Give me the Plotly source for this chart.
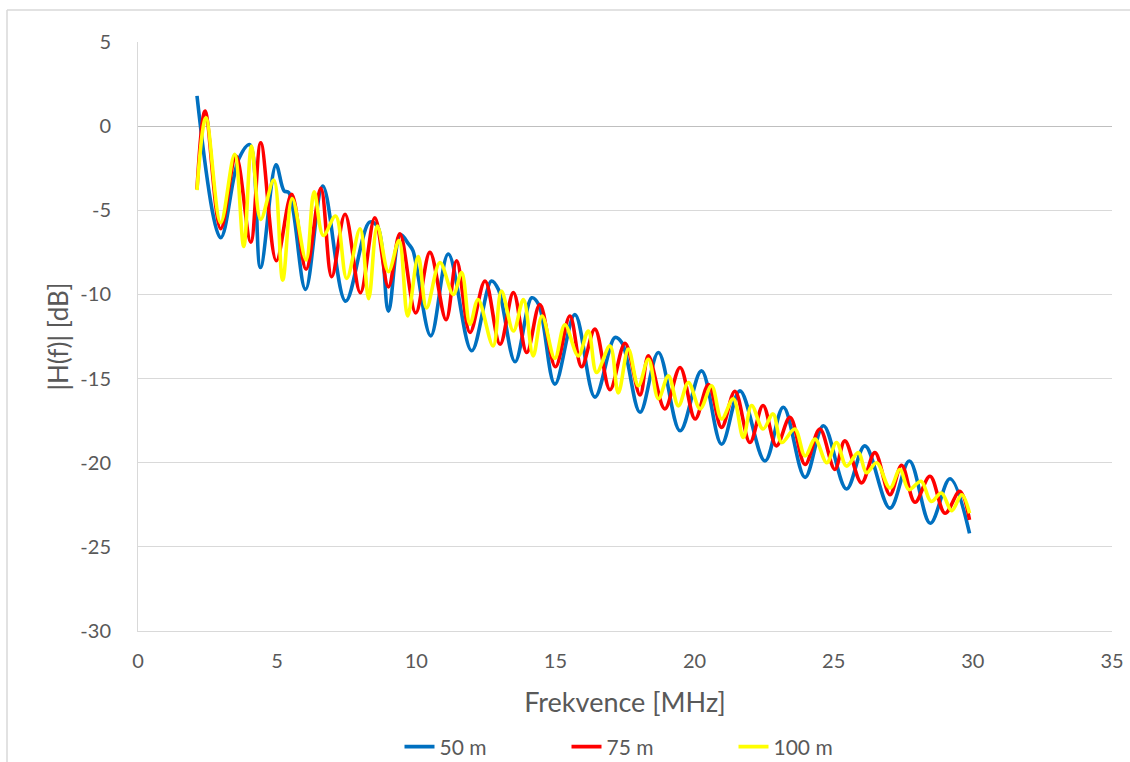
import plotly.graph_objects as go

# Frequency response magnitude of the line for three lengths
# (frequency in MHz, |H(f)| in dB), sampled at the turning points of each curve.
f_50 = [2.12, 2.97, 3.62, 4.02, 4.40, 4.96, 5.25, 5.42, 6.02, 6.64, 7.46, 8.32, 8.62,
        9.00, 9.43, 9.72, 9.88, 10.52, 11.15, 11.99, 12.70, 12.95, 13.55, 14.15, 14.40,
        14.98, 15.70, 16.42, 17.14, 17.40, 18.04, 18.70, 19.48, 20.25, 20.97, 21.63,
        22.53, 23.19, 23.97, 24.63, 25.46, 26.12, 27.02, 27.72, 28.47, 29.18, 29.88]
h_50 = [1.8, -6.63, -1.95, -1.1, -8.4, -2.3, -3.85, -3.95, -9.7, -3.56, -10.4, -5.7, -6.0,
        -11.0, -6.45, -7.0, -7.4, -12.46, -7.6, -13.35, -9.2, -9.7, -14.0, -10.2, -10.6,
        -15.33, -11.2, -16.1, -12.56, -12.9, -17.0, -13.45, -18.1, -14.54, -18.9, -15.73,
        -19.9, -16.7, -20.87, -17.8, -21.56, -19.0, -22.7, -19.9, -23.6, -20.95, -24.2]

f_75 = [2.12, 2.41, 2.97, 3.52, 4.05, 4.41, 4.97, 5.52, 6.04, 6.57, 6.96, 7.44, 7.99,
        8.51, 9.00, 9.41, 9.98, 10.49, 11.07, 11.45, 11.93, 12.47, 13.01, 13.49, 13.97,
        14.44, 15.00, 15.52, 15.94, 16.42, 16.96, 17.50, 18.04, 18.34, 18.93, 19.48,
        20.02, 20.50, 20.97, 21.45, 21.99, 22.46, 22.94, 23.43, 23.97, 24.50, 25.04,
        25.40, 26.00, 26.48, 27.02, 27.44, 27.92, 28.46, 29.00, 29.53, 29.88]
h_75 = [-3.76, 0.89, -6.1, -1.78, -6.9, -0.99, -8.0, -4.05, -8.5, -3.7, -8.95, -5.24, -9.9,
        -5.45, -9.55, -6.4, -11.1, -7.5, -11.5, -8.0, -12.26, -9.2, -12.96, -9.89, -13.45,
        -10.6, -14.3, -11.28, -14.3, -12.06, -15.66, -12.9, -15.97, -13.65, -16.8, -14.34,
        -17.4, -15.35, -17.9, -15.75, -18.8, -16.6, -19.0, -17.3, -20.1, -18.0, -20.4,
        -18.7, -21.2, -19.4, -21.9, -20.15, -22.35, -20.8, -23.0, -21.7, -23.4]

f_100 = [2.12, 2.44, 2.97, 3.47, 3.80, 4.08, 4.41, 4.88, 5.20, 5.54, 6.04, 6.33, 6.66,
         7.10, 7.50, 7.98, 8.29, 8.60, 9.00, 9.38, 9.69, 10.07, 10.37, 10.85, 11.33,
         11.63, 11.93, 12.22, 12.76, 13.06, 13.49, 13.85, 14.20, 14.52, 14.98, 15.34,
         15.82, 16.18, 16.48, 16.96, 17.26, 17.62, 17.98, 18.34, 18.70, 19.06, 19.42,
         19.78, 20.20, 20.61, 20.97, 21.39, 21.75, 22.05, 22.46, 22.82, 23.13, 23.60,
         23.97, 24.33, 24.75, 25.10, 25.46, 25.88, 26.18, 26.54, 27.02, 27.38, 27.70,
         28.14, 28.50, 28.87, 29.24, 29.60, 29.88]
h_100 = [-3.8, 0.5, -5.74, -1.68, -7.15, -1.19, -5.54, -3.2, -9.15, -4.3, -7.95, -3.9, -6.5,
         -5.34, -9.05, -6.1, -10.25, -5.93, -8.65, -6.8, -11.28, -7.75, -10.8, -8.1, -10.0,
         -8.7, -11.77, -10.3, -13.06, -9.8, -12.17, -10.3, -13.65, -11.28, -13.8, -11.8,
         -13.65, -12.17, -14.64, -13.06, -15.85, -13.25, -15.43, -13.85, -16.2, -14.84, -16.62,
         -15.23, -16.8, -15.43, -17.4, -16.2, -18.5, -16.6, -18.0, -17.1, -18.8, -18.0,
         -19.6, -18.6, -20.0, -18.8, -20.2, -19.4, -20.6, -20.0, -21.5, -20.4, -21.6,
         -21.1, -22.3, -21.8, -22.85, -21.9, -23.0]

# axis ticks (labels written with a plain hyphen-minus)
x_ticks = [0, 5, 10, 15, 20, 25, 30, 35]
y_ticks = [5, 0, -5, -10, -15, -20, -25, -30]
y_tick_text = ["5", "0", "-5", "-10", "-15", "-20", "-25", "-30"]

series = [
    ("50 m", f_50, h_50, "#0070C0"),
    ("75 m", f_75, h_75, "#FF0000"),
    ("100 m", f_100, h_100, "#FFFF00"),
]

FONT = "Lato"
TEXT = "#595959"
GRID = "#D9D9D9"

fig = go.Figure()
for name, fx, hy, color in series:
    fig.add_trace(go.Scatter(
        x=fx, y=hy, name=name, mode="lines",
        line=dict(color=color, width=3.6, shape="spline", smoothing=1.0),
    ))

W, H = 1130, 762
L, R, T, B = 138, 18, 42, 131
pw, ph = W - L - R, H - T - B

fig.update_layout(
    width=W, height=H,
    margin=dict(l=L, r=R, t=T, b=B, pad=0, autoexpand=False),
    paper_bgcolor="white", plot_bgcolor="white",
    font=dict(family=FONT, color=TEXT, size=20),
    showlegend=True,
    legend=dict(
        orientation="h",
        xref="container", x=650 / W, xanchor="center",
        yref="container", y=1 - 747 / H, yanchor="middle",
        font=dict(size=21, color=TEXT),
        entrywidth=122, entrywidthmode="pixels",
        bgcolor="rgba(0,0,0,0)",
    ),
    xaxis=dict(
        range=[0, 35], tickvals=x_ticks, automargin=False,
        showgrid=False, zeroline=False,
        showline=True, linecolor=GRID, linewidth=1,
        ticks="", ticklabelstandoff=12,
        tickfont=dict(size=20, color=TEXT),
        title=dict(text="Frekvence [MHz]", font=dict(size=27, color=TEXT), standoff=22),
    ),
    yaxis=dict(
        range=[-30, 5], tickvals=y_ticks, ticktext=y_tick_text, automargin=False,
        showgrid=True, gridcolor=GRID, gridwidth=1,
        zeroline=True, zerolinecolor="#BFBFBF", zerolinewidth=1,
        showline=True, linecolor=GRID, linewidth=1,
        ticks="", ticklabelstandoff=22,
        tickfont=dict(size=20, color=TEXT),
        title=dict(text="|H(f)| [dB]", font=dict(size=26, color=TEXT), standoff=4),
    ),
)

# chart-area frame (top and left edges)
x_edge = (7 - L) / pw
y_edge = (T + ph - 10) / ph
fig.add_shape(type="line", xref="paper", yref="paper",
              x0=x_edge, x1=(W - L) / pw + 0.01, y0=y_edge, y1=y_edge,
              line=dict(color=GRID, width=1.5))
fig.add_shape(type="line", xref="paper", yref="paper",
              x0=x_edge, x1=x_edge, y0=y_edge, y1=(T + ph - H) / ph - 0.01,
              line=dict(color=GRID, width=1.5))

fig.write_html("out.html")
